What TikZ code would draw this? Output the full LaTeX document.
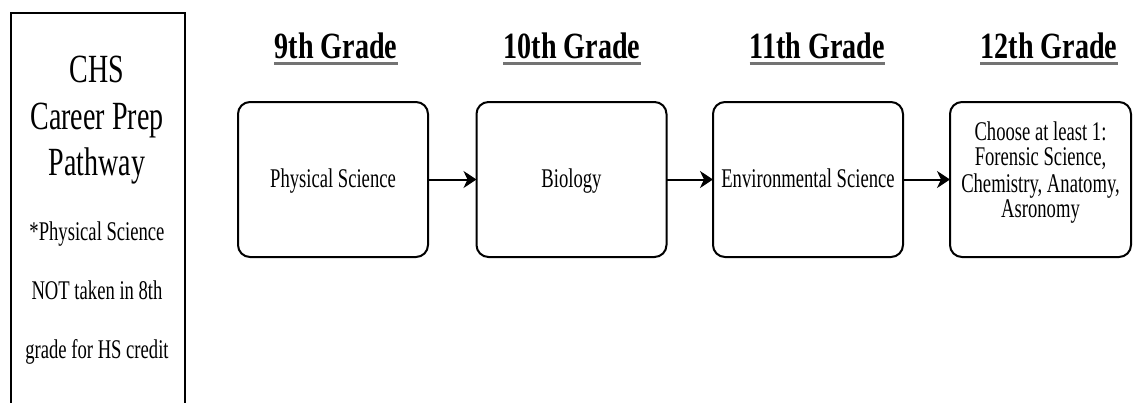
\documentclass[tikz,border=0pt]{standalone}
\usepackage{fontspec}
\setmainfont{Liberation Serif}
\newfontfamily\bodyf[FakeStretch=0.69]{Liberation Serif}
\newfontfamily\titlef[FakeStretch=0.70]{Liberation Serif}
\newfontfamily\headf[FakeStretch=0.76]{Liberation Serif}
\usetikzlibrary{arrows.meta}
\begin{document}
\begin{tikzpicture}[x=1pt,y=-1pt,
  stepbox/.style={draw, line width=2pt, rounded corners=12pt, minimum height=155pt,
    inner sep=2pt, outer sep=0pt, align=center, font=\bodyf\fontsize{27}{25.5}\selectfont},
  oneline/.style={text height=18.4pt, text depth=2pt},
  header/.style={font=\headf\bfseries\fontsize{37}{40}\selectfont, anchor=base, inner sep=0pt},
  uline/.style={line width=3pt, black!55},
  link/.style={line width=2pt, -{Stealth[length=13pt,width=17pt,inset=4pt]}},
  paneltext/.style={anchor=north, align=center, inner sep=0pt}]
\useasboundingbox (0,0) rectangle (1133,402);
% left panel
\node[draw, line width=2pt, minimum width=174pt, minimum height=420pt, anchor=north west,
  inner sep=0pt] (panel) at (10,12) {};
\node[paneltext, font=\titlef\fontsize{40}{46.5}\selectfont] (title) at (97,56)
  {CHS\\Career Prep\\Pathway};
\node[paneltext, font=\bodyf\fontsize{27}{59}\selectfont] (note) at (97,221.6)
  {*Physical Science\\NOT taken in 8th\\grade for HS credit};
% headers
\node[header] (h1) at (336,58) {9th Grade};
\node[header] (h2) at (572,58) {10th Grade};
\node[header] (h3) at (817.5,58) {11th Grade};
\node[header] (h4) at (1049,58) {12th Grade};
\foreach \h in {h1,h2,h3,h4}
  \draw[uline] ([yshift=-5pt]\h.base west) -- ([yshift=-5pt]\h.base east);
% boxes
\node[stepbox, oneline, minimum width=190pt] (b1) at (333,179.5) {Physical Science};
\node[stepbox, oneline, minimum width=190pt] (b2) at (571.5,179.5) {Biology};
\node[stepbox, oneline, minimum width=190pt] (b3) at (808,179.5) {Environmental Science};
\node[stepbox, minimum width=181pt] (b4) at (1040.5,179.5)
  {\raisebox{6pt}[\height][\depth]{\begin{tabular}{@{}c@{}}Choose at least 1:\\Forensic Science,\\Chemistry, Anatomy,\\Asronomy\end{tabular}}};
% connectors
\draw[link] (b1.east) -- (b2.west);
\draw[link] (b2.east) -- (b3.west);
\draw[link] (b3.east) -- (b4.west);
\end{tikzpicture}
\end{document}
